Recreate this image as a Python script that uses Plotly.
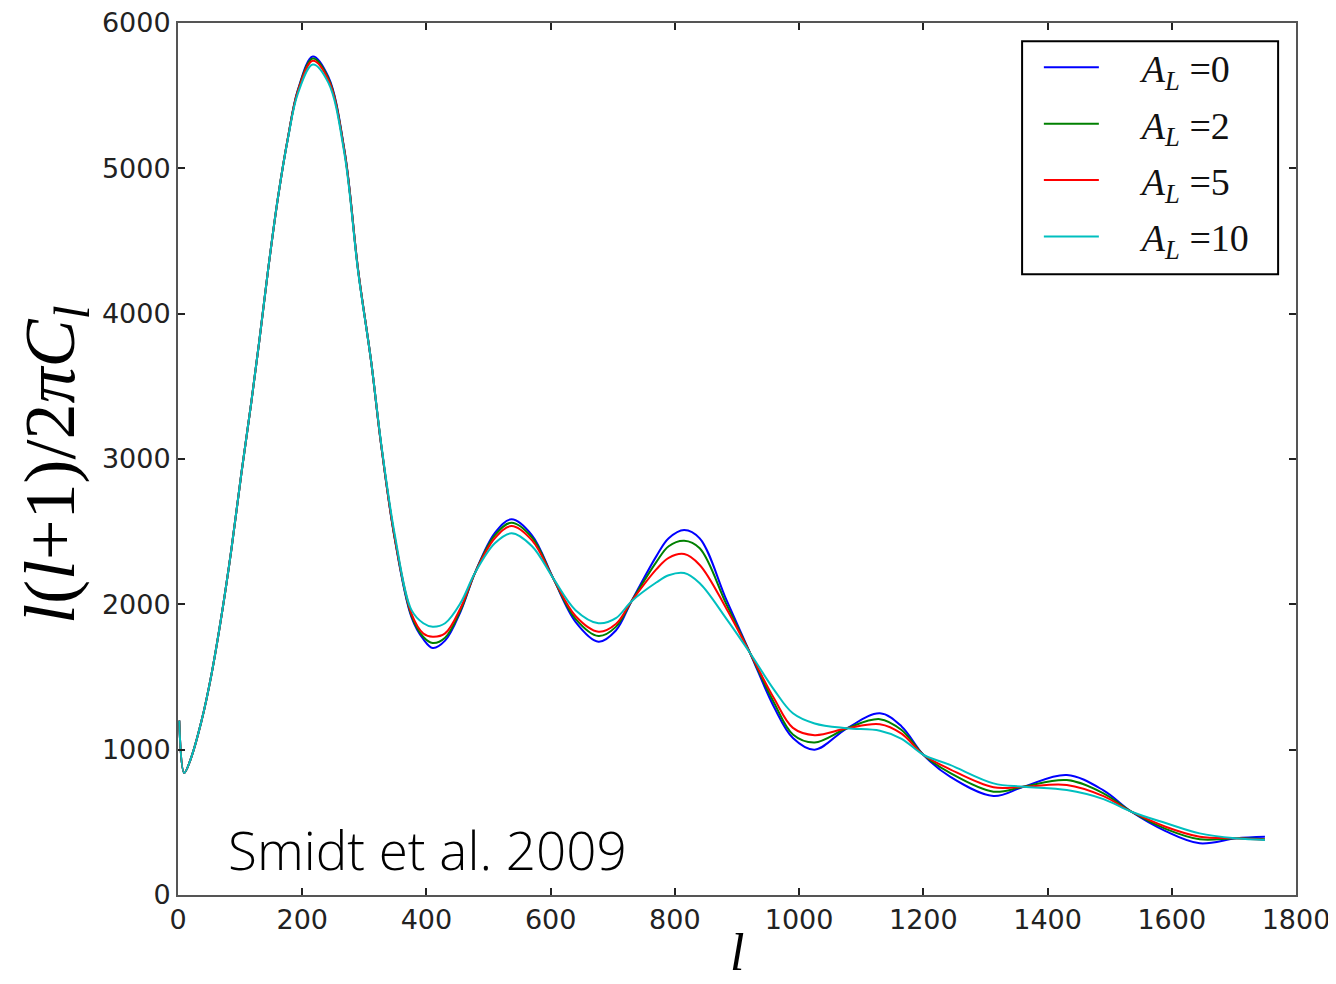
import plotly.graph_objects as go

# multipole l
ell = [2, 10, 20, 38, 54, 70, 86, 102, 118, 132, 145, 161, 177, 193, 217, 242, 268,
       290, 311, 327, 349, 376, 395, 410, 430, 455, 478, 510, 537, 570, 604, 640,
       677, 705, 730, 770, 790, 815, 840, 883, 921, 960, 990, 1025, 1077, 1130,
       1165, 1200, 1243, 1313, 1361, 1431, 1490, 1535, 1590, 1645, 1704, 1750]

# l(l+1)C_l/2pi for each lensing amplitude A_L
al_0 = [1200, 840, 930, 1200, 1520, 1920, 2380, 2900, 3390, 3850, 4300, 4800, 5210, 5540, 5770, 5630, 5125,
        4300, 3670, 3100, 2450, 1910, 1760, 1700, 1750, 1950, 2215, 2490, 2585, 2475, 2180, 1880,
        1743, 1820, 2020, 2330, 2455, 2512, 2454, 2030, 1665, 1290, 1080, 1000, 1147, 1250,
        1160, 965, 814, 681, 745, 826, 720, 573, 440, 356, 390, 400]
al_2 = [1200, 840, 930, 1200, 1520, 1920, 2380, 2900, 3390, 3850, 4300, 4800, 5210, 5535, 5755, 5620, 5120,
        4300, 3670, 3100, 2455, 1920, 1775, 1734, 1770, 1960, 2215, 2475, 2562, 2460, 2180, 1900,
        1782, 1845, 2020, 2290, 2400, 2438, 2386, 2000, 1665, 1320, 1105, 1050, 1147, 1210,
        1135, 965, 840, 711, 745, 791, 700, 573, 455, 383, 390, 383]
al_5 = [1200, 840, 930, 1200, 1520, 1920, 2380, 2900, 3390, 3850, 4300, 4800, 5210, 5530, 5740, 5610, 5115,
        4300, 3670, 3100, 2460, 1935, 1800, 1777, 1800, 1975, 2215, 2455, 2539, 2440, 2180, 1920,
        1812, 1865, 2020, 2240, 2320, 2346, 2271, 1970, 1665, 1350, 1150, 1100, 1147, 1175,
        1110, 965, 865, 741, 745, 757, 680, 573, 470, 401, 390, 380]
al_10 = [1200, 840, 930, 1200, 1520, 1920, 2380, 2900, 3390, 3850, 4300, 4800, 5205, 5515, 5715, 5590, 5100,
         4290, 3670, 3110, 2480, 1960, 1870, 1846, 1870, 2010, 2215, 2420, 2489, 2400, 2180, 1960,
         1870, 1905, 2020, 2150, 2200, 2215, 2145, 1900, 1665, 1410, 1250, 1180, 1147, 1130,
         1075, 965, 895, 768, 745, 722, 660, 573, 495, 424, 390, 378]

pad = "\u00a0\u00a0\u00a0\u00a0"
names = [pad + "<i>A</i><sub><i>L</i></sub> =0", pad + "<i>A</i><sub><i>L</i></sub> =2",
         pad + "<i>A</i><sub><i>L</i></sub> =5", pad + "<i>A</i><sub><i>L</i></sub> =10"]
colors = ["#0000ff", "#008000", "#ff0000", "#00bfbf"]

x_ticks = [0, 200, 400, 600, 800, 1000, 1200, 1400, 1600, 1800]
y_ticks = [0, 1000, 2000, 3000, 4000, 5000, 6000]

fig = go.Figure()
for i, (vals, nm, col) in enumerate(zip([al_0, al_2, al_5, al_10], names, colors)):
    fig.add_trace(go.Scatter(x=ell, y=vals, mode="lines", name=nm, legendgroup=str(i),
                             line=dict(color=col, width=2, shape="spline", smoothing=1.0)))

axis_style = dict(showline=True, linecolor="#555", linewidth=2, mirror="allticks",
                  ticks="inside", ticklen=7, tickwidth=1.5, tickcolor="#222",
                  showgrid=False, zeroline=False, automargin=False,
                  ticklabeloverflow="allow",
                  tickfont=dict(family="DejaVu Sans", size=27, color="#222"))

fig.update_xaxes(range=[0, 1800], tickvals=x_ticks, **axis_style)
fig.update_yaxes(range=[0, 6000], tickvals=y_ticks, ticklabelstandoff=0, **axis_style)

# page body has an 8px margin, so the figure is a bit smaller than the window
fig.update_layout(
    width=1328, height=976,
    margin=dict(l=170, r=40, t=15, b=89),
    plot_bgcolor="white", paper_bgcolor="white",
    legend=dict(x=0.770, y=0.985, xanchor="left", yanchor="top",
                borderwidth=0, bgcolor="rgba(0,0,0,0)",
                font=dict(family="Liberation Serif", size=38, color="#111"),
                tracegroupgap=4, itemwidth=55),
    shapes=[dict(type="rect", xref="paper", yref="paper", x0=0.755, x1=0.984, y0=0.712, y1=0.979,
                 line=dict(color="black", width=2), fillcolor="white", layer="below")],
    annotations=[
        dict(text="<i>l</i>(<i>l</i>+1)/2<i>π</i><i>C</i><sub><i>l</i></sub>",
             xref="paper", yref="paper", x=-0.11, y=0.493, textangle=-90,
             xanchor="center", yanchor="middle",
             showarrow=False, font=dict(family="Liberation Serif", size=72, color="black")),
        dict(text="<i>l</i>", xref="paper", yref="paper", x=0.5, y=-0.066,
             xanchor="center", yanchor="middle",
             showarrow=False, font=dict(family="Liberation Serif", size=52, color="black")),
        dict(text="Smidt et al. 2009", xref="paper", yref="paper", x=0.043, y=0.052,
             xanchor="left", yanchor="middle", showarrow=False,
             font=dict(family="Open Sans", size=53, color="black", weight=300)),
    ],
)

fig.write_html("out.html")
